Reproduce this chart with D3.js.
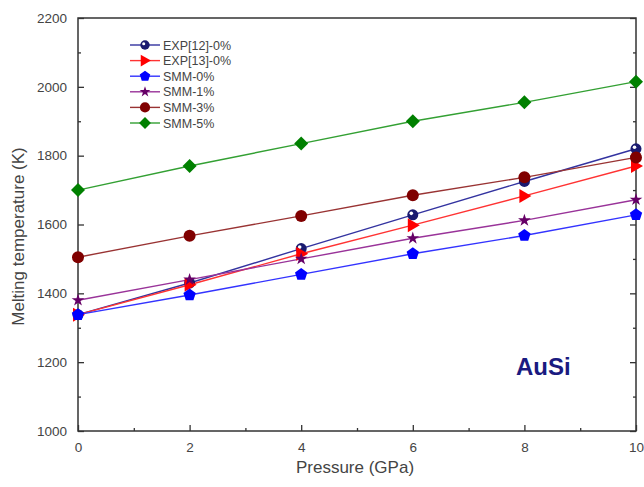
<!DOCTYPE html>
<html>
<head>
<meta charset="utf-8">
<script src="https://cdn.jsdelivr.net/npm/d3@7"></script>
<style>
  body { margin: 0; background: #fff; }
  text { font-family: Arial, "Liberation Sans", sans-serif; }
</style>
</head>
<body>
<svg width="644" height="487"></svg>
<script>
// data
var pressure = [0, 2, 4, 6, 8, 10];
var exp12 = [1338, 1430, 1530, 1628, 1725, 1820];
var exp13 = [1338, 1425, 1515, 1598, 1683, 1770];
var smm0 = [1338, 1395, 1455, 1515, 1568, 1628];
var smm1 = [1380, 1440, 1500, 1560, 1612, 1672];
var smm3 = [1505, 1567, 1625, 1685, 1737, 1795];
var smm5 = [1700, 1770, 1835, 1900, 1955, 2015];
var xTicks = [0, 2, 4, 6, 8, 10];
var yTicks = [1000, 1200, 1400, 1600, 1800, 2000, 2200];

var series = [
  { name: "EXP[12]-0%", values: exp12, line: "#3333a0", fill: "#1a1a70", shape: "ball" },
  { name: "EXP[13]-0%", values: exp13, line: "#ff3333", fill: "#ff0000", shape: "tri" },
  { name: "SMM-0%", values: smm0, line: "#3333ff", fill: "#0000ff", shape: "pent" },
  { name: "SMM-1%", values: smm1, line: "#993399", fill: "#660066", shape: "star" },
  { name: "SMM-3%", values: smm3, line: "#993333", fill: "#800000", shape: "circle" },
  { name: "SMM-5%", values: smm5, line: "#33a033", fill: "#008000", shape: "diamond" }
];

var margin = { top: 18, right: 8, bottom: 56, left: 78 };
var width = 644 - margin.left - margin.right;
var height = 487 - margin.top - margin.bottom;

var svg = d3.select("svg");
var g = svg.append("g")
  .attr("transform", "translate(" + margin.left + "," + margin.top + ")");

var x = d3.scaleLinear().domain([0, 10]).range([0, width]);
var y = d3.scaleLinear().domain([1000, 2200]).range([height, 0]);

// frame
g.append("rect")
  .attr("width", width).attr("height", height)
  .attr("fill", "none").attr("stroke", "#333").attr("stroke-width", 1.5);

// ticks inward
function tickStyle(sel) {
  sel.select(".domain").remove();
  sel.selectAll("line").attr("stroke", "#333").attr("stroke-width", 1.3);
  sel.selectAll("text").attr("fill", "#444").style("font-size", "13.5px");
}

g.append("g").attr("transform", "translate(0," + height + ")")
  .call(d3.axisBottom(x).tickValues(xTicks).tickSizeInner(-6).tickPadding(11).tickFormat(d3.format("d")))
  .call(tickStyle);
g.append("g").attr("transform", "translate(0," + height + ")")
  .call(d3.axisBottom(x).tickValues(d3.range(1, 10, 2)).tickSizeInner(-3).tickFormat(""))
  .call(tickStyle);
g.append("g")
  .call(d3.axisLeft(y).tickValues(yTicks).tickSizeInner(-6).tickPadding(11).tickFormat(d3.format("d")))
  .call(tickStyle);
g.append("g")
  .call(d3.axisLeft(y).tickValues(d3.range(1100, 2200, 200)).tickSizeInner(-3).tickFormat(""))
  .call(tickStyle);
g.append("g").attr("transform", "translate(" + width + ",0)")
  .call(d3.axisRight(y).tickValues(yTicks).tickSizeInner(-6).tickFormat(""))
  .call(tickStyle);
g.append("g").attr("transform", "translate(" + width + ",0)")
  .call(d3.axisRight(y).tickValues(d3.range(1100, 2200, 200)).tickSizeInner(-3).tickFormat(""))
  .call(tickStyle);

// axis titles
svg.append("text")
  .attr("x", margin.left + width / 2 - 2).attr("y", 473)
  .attr("text-anchor", "middle").attr("fill", "#444")
  .style("font-size", "17px").text("Pressure (GPa)");
svg.append("text")
  .attr("transform", "translate(24," + (margin.top + height / 2 + 12) + ") rotate(-90)")
  .attr("text-anchor", "middle").attr("fill", "#444")
  .style("font-size", "17px").text("Melting temperature (K)");

function drawMarker(sel, s) {
  var r = 5.5;
  if (s.shape === "ball") {
    sel.append("circle").attr("r", r).attr("fill", s.fill);
    sel.append("circle").attr("cx", -1.5).attr("cy", -1.5).attr("r", 1.8).attr("fill", "#fff");
  } else if (s.shape === "tri") {
    sel.append("path").attr("d", "M-5,-7 L7,0 L-5,7 Z").attr("fill", s.fill);
  } else if (s.shape === "pent") {
    var pts = d3.range(5).map(function(i) {
      var a = -Math.PI / 2 + i * 2 * Math.PI / 5;
      return [6.5 * Math.cos(a), 6.5 * Math.sin(a)];
    });
    sel.append("polygon").attr("points", pts.join(" ")).attr("fill", s.fill);
  } else if (s.shape === "star") {
    sel.append("path").attr("d", d3.symbol(d3.symbolStar, 50)()).attr("fill", s.fill);
  } else if (s.shape === "circle") {
    sel.append("circle").attr("r", 6).attr("fill", s.fill);
  } else if (s.shape === "diamond") {
    sel.append("path").attr("d", "M0,-7 L7,0 L0,7 L-7,0 Z").attr("fill", s.fill);
  }
}

var line = d3.line()
  .x(function(d, i) { return x(pressure[i]); })
  .y(function(d) { return y(d); });

series.forEach(function(s) {
  g.append("path")
    .datum(s.values)
    .attr("d", line)
    .attr("fill", "none")
    .attr("stroke", s.line)
    .attr("stroke-width", 1.4);
});
series.forEach(function(s) {
  s.values.forEach(function(v, i) {
    var m = g.append("g").attr("transform", "translate(" + x(pressure[i]) + "," + y(v) + ")");
    drawMarker(m, s);
  });
});

// legend
var legend = svg.append("g").attr("transform", "translate(130,45)");
series.forEach(function(s, i) {
  var row = legend.append("g").attr("transform", "translate(0," + (i * 15.6) + ")");
  row.append("line").attr("x1", 0).attr("x2", 30)
    .attr("stroke", s.line).attr("stroke-width", 1.4);
  var m = row.append("g").attr("transform", "translate(15,0) scale(0.85)");
  drawMarker(m, s);
  row.append("text").attr("x", 33).attr("y", 4.5)
    .attr("fill", "#444").style("font-size", "12.5px").text(s.name);
});

// label
svg.append("text")
  .attr("x", 516).attr("y", 375)
  .attr("fill", "#1a1a80")
  .style("font-size", "24px").style("font-weight", "bold")
  .text("AuSi");
</script>
</body>
</html>
